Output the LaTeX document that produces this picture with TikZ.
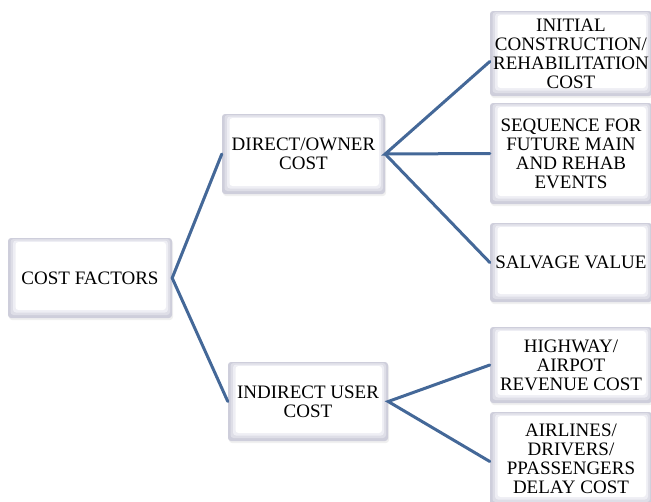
\documentclass[tikz,border=0pt]{standalone}
\usepackage{fontspec}
\setmainfont{Liberation Serif}
\usetikzlibrary{shadows}
\definecolor{linkblue}{RGB}{68,104,152}
\definecolor{bevelA}{RGB}{206,206,219}
\definecolor{bevelB}{RGB}{222,222,231}
\definecolor{bevelC}{RGB}{238,238,244}
\tikzset{
  costbox/.style={
    rounded corners=3pt, fill=bevelA, inner sep=0pt, align=center,
    font=\fontsize{19}{19}\selectfont,
    drop shadow={opacity=0.12, shadow xshift=1pt, shadow yshift=-2pt},
    path picture={
      \fill[bevelB, rounded corners=3pt]
        ([shift={(2.5pt,3pt)}]path picture bounding box.south west) rectangle
        ([shift={(-2pt,-1pt)}]path picture bounding box.north east);
      \fill[bevelC, rounded corners=3pt]
        ([shift={(5pt,5.5pt)}]path picture bounding box.south west) rectangle
        ([shift={(-4pt,-2.5pt)}]path picture bounding box.north east);
      \fill[white, rounded corners=3pt]
        ([shift={(7.5pt,8pt)}]path picture bounding box.south west) rectangle
        ([shift={(-6pt,-4pt)}]path picture bounding box.north east);
    }},
  link/.style={draw=linkblue, line width=3pt, line cap=round}
}
\begin{document}
\begin{tikzpicture}[x=1pt, y=-1pt]
  \useasboundingbox (0,0) rectangle (651,501);
  \clip (0,0) rectangle (651,501);

  % root and first level
  \node[costbox, minimum width=164pt, minimum height=80pt] (cf)  at (90,278)    {COST FACTORS};
  \node[costbox, minimum width=163pt, minimum height=80pt] (dir) at (303.5,154) {DIRECT/OWNER\\COST};
  \node[costbox, minimum width=160pt, minimum height=79pt] (ind) at (308,401.5) {INDIRECT USER\\COST};

  % leaves
  \node[costbox, minimum width=162pt, minimum height=85pt]  (r1) at (571,53.5)  {INITIAL\\CONSTRUCTION/\\REHABILITATION\\COST};
  \node[costbox, minimum width=162pt, minimum height=101pt] (r2) at (571,153.5) {SEQUENCE FOR\\FUTURE MAIN\\AND REHAB\\EVENTS};
  \node[costbox, minimum width=162pt, minimum height=79pt]  (r3) at (571,262.5) {SALVAGE VALUE};
  \node[costbox, minimum width=162pt, minimum height=76pt]  (r4) at (571,365)   {HIGHWAY/\\AIRPOT\\REVENUE COST};
  \node[costbox, minimum width=162pt, minimum height=93pt]  (r5) at (571,458.5) {AIRLINES/\\DRIVERS/\\PPASSENGERS\\DELAY COST};

  % connectors
  \draw[link] (dir.west) -- (cf.east) -- (ind.west);
  \draw[link] ([yshift=-8pt]r1.west) -- (dir.east) -- (r2.west);
  \draw[link] (dir.east) -- (r3.west);
  \draw[link] (r4.west) -- (ind.east) -- ([yshift=-3pt]r5.west);
\end{tikzpicture}
\end{document}
